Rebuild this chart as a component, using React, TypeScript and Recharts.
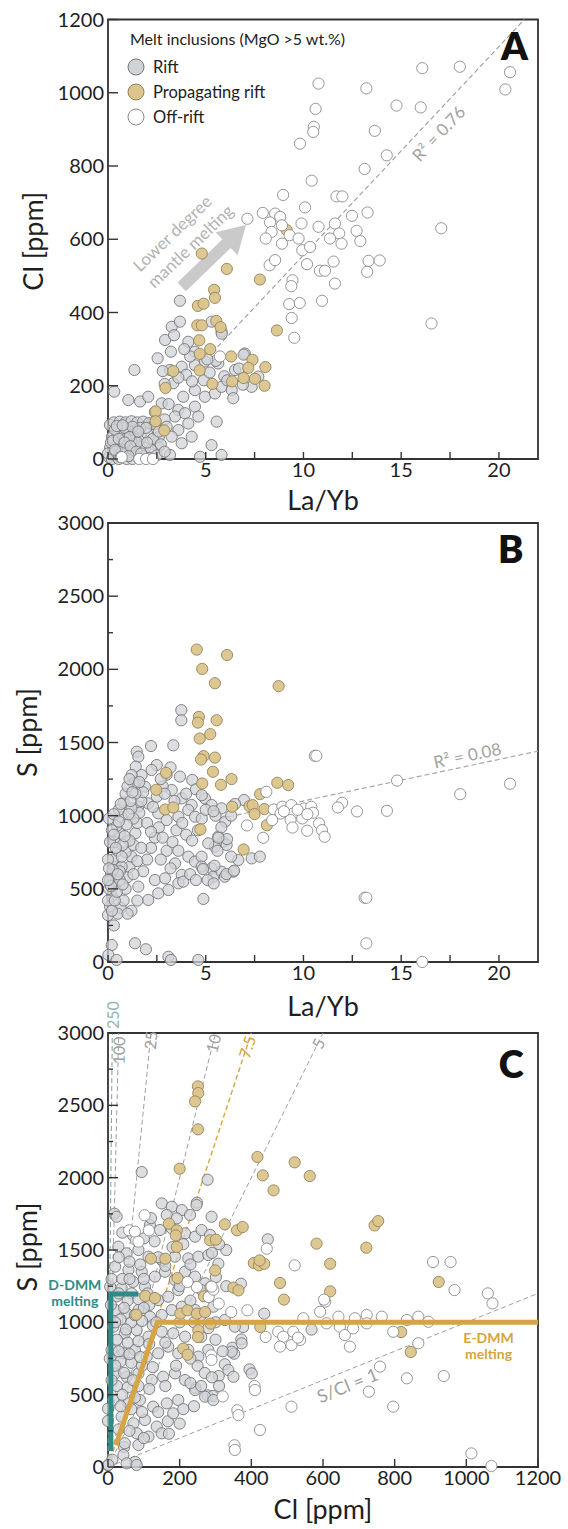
import React from 'react';
import { ScatterChart, Scatter, XAxis, YAxis, ReferenceArea, ReferenceLine, Legend } from 'recharts';

type P = [number, number];
const FONT = "Lato, 'DejaVu Sans', sans-serif";

// ---------- Panel A : La/Yb vs Cl ----------
const riftA: P[] = [
  [3.68,432],[3.26,361],[3.68,375],[2.92,325],[3.38,338],[3.22,293],[4.11,320],[4.45,293],[5.3,375],[5.81,348],
  [2.54,275],[1.35,243],[3.77,252],[3.17,243],[4.45,256],[4.96,266],[5.64,261],[6.5,243],[7.0,288],[7.35,197],
  [7.69,225],[3.34,207],[3.85,170],[4.45,188],[4.96,170],[5.47,179],[5.81,197],[6.33,188],[6.41,166],[0.32,184],
  [1.04,161],[1.64,157],[2.06,170],[2.75,152],[3.6,134],[3.43,116],[3.94,125],[4.45,143],[4.62,116],[4.11,97],
  [3.6,79],[3.26,61],[4.28,61],[3.77,43],[5.56,102],[5.3,38],[5.81,11],[4.71,6],[3.17,11],[2.57,34],[0.1,93],
  [4.0,230],[4.3,212],[3.6,222],[2.9,205],[2.4,128],[2.9,108],[3.1,150],[4.9,215],[5.2,236],[5.95,226],[6.9,203],
  [6.1,215],[6.7,247],[6.94,285],[5.82,342],[5.52,268],[5.08,272],[4.2,280],[3.9,300],[2.8,240],[2.2,95],[2.6,60],[3.0,88],
  [0.3,100],[0.6,102],[0.9,100],[1.2,103],[1.5,100],[1.8,102],[2.1,98],[2.4,95],[0.2,60],[0.5,70],[0.8,65],[1.1,75],
  [1.4,70],[1.7,60],[2.0,70],[2.3,55],[0.1,30],[0.4,35],[0.7,40],[1.0,45],[1.3,40],[1.6,35],[1.9,30],[2.2,25],
  [0.05,5],[0.3,10],[0.6,15],[0.9,8],[1.2,12],[1.5,5],[1.8,8],[2.1,3],[2.5,10],[0.15,45],[0.45,20],[0.75,25],
  [1.05,20],[1.35,55],[1.65,85],[1.95,85],[0.35,80],[0.85,85],[1.25,88],[2.6,75],[2.7,40],[2.9,20],[0.0,15],
  [0.2,0],[0.55,0],[0.95,0],[1.25,0],[0.6,30],[0.8,35],[1.0,30],[1.2,50],[0.4,20],[0.7,20],[1.3,25],[1.5,45],[0.9,55],[1.1,60],
  [0.25,50],[0.55,55],[0.85,45],[1.15,35],[1.45,20],[0.35,25],[0.65,5],[1.05,8],[1.7,15],[2.0,45],[0.45,90],[0.75,92],[1.55,75],
];
const propA: P[] = [
  [4.8,561],[6.08,519],[7.77,490],[9.14,625],[5.43,462],[5.47,440],[4.6,418],[4.89,424],[4.57,365],[4.8,365],
  [5.54,377],[5.76,360],[8.64,351],[4.67,324],[5.23,300],[4.69,287],[6.3,280],[7.39,271],[3.34,240],[4.69,242],
  [7.18,249],[8.05,251],[6.94,221],[7.52,219],[6.35,212],[5.34,205],[8.01,200],[2.94,194],[2.44,130],[2.44,103],[2.88,78],
];
const offA: P[] = [
  [16.08,1067],[18.0,1071],[20.57,1056],[20.33,1009],[10.77,1025],[13.22,1012],[14.76,965],[16.0,960],[10.62,956],
  [10.53,907],[10.5,893],[9.82,861],[13.65,896],[14.26,829],[13.13,792],[10.42,760],[8.96,721],[11.69,717],[11.99,717],
  [17.05,630],[12.48,664],[13.28,673],[10.08,687],[9.9,643],[7.13,656],[7.92,672],[8.55,670],[8.81,661],[8.29,646],
  [8.9,638],[8.37,620],[8.07,602],[8.9,588],[9.29,611],[9.75,602],[9.94,570],[10.34,579],[10.77,634],[11.61,643],
  [11.83,616],[11.36,602],[11.95,588],[12.72,623],[12.91,595],[10.18,532],[8.27,529],[8.55,543],[10.84,514],[11.1,514],
  [11.54,539],[13.33,541],[13.9,542],[13.26,511],[11.61,479],[9.44,488],[9.38,472],[10.95,432],[9.27,423],[9.81,426],
  [9.4,385],[9.53,331],[16.55,370],[5.73,280],[1.6,0],[1.95,0],[2.3,0],[0.7,5],
];
const regA: P[] = [[5.6,306],[21.3,1200]];
const arrowA: P[] = [[3.77,470],[7.06,639]];

// ---------- Panel B : La/Yb vs S ----------
const riftB: P[] = [
  [2.2,1476],[3.34,1481],[1.47,1437],[1.55,1403],[2.49,1346],[1.42,1335],[2.23,1312],[1.72,1278],[1.21,1278],[3.68,1267],
  [4.31,1244],[1.3,1221],[1.89,1198],[3.26,1175],[3.77,1118],[4.96,1118],[4.28,1073],[4.11,1039],[5.3,1073],[5.81,1050],
  [6.96,1107],[4.45,993],[3.6,993],[3.0,970],[2.57,1016],[2.06,1084],[1.55,1062],[5.64,857],[5.9,822],[6.07,800],
  [5.47,788],[5.13,811],[4.11,720],[4.45,686],[4.79,720],[4.79,652],[5.3,640],[5.39,583],[5.81,617],[5.98,583],
  [6.41,617],[6.67,697],[7.35,708],[7.77,720],[4.88,431],[3.43,674],[3.77,595],[3.6,538],[3.09,492],[2.57,469],
  [2.06,424],[1.55,515],[2.4,560],[2.92,572],[3.85,549],[1.38,128],[1.94,87],[0.19,116],[0.02,48],[0.44,14],
  [3.09,36],[3.22,14],[4.62,14],[3.75,1721],[3.75,1652],
  [0.0,320],[0.1,380],[0.2,450],[0.05,500],[0.3,520],[0.15,600],[0.4,650],[0.25,700],[0.5,760],[0.35,820],[0.6,880],
  [0.45,930],[0.7,990],[0.55,1040],[0.8,1090],[0.9,1150],[1.0,1200],[1.1,1250],[0.65,370],[0.5,330],[0.8,420],[0.9,500],
  [1.0,580],[1.1,650],[1.2,720],[1.3,800],[1.4,880],[1.5,950],[1.6,1020],[1.7,1100],[1.8,1160],[0.1,820],[0.2,900],
  [0.05,980],[0.3,1010],[0.0,700],[0.1,560],[1.2,350],[1.0,330],[1.5,420],[1.8,620],[2.0,700],[2.2,780],[2.4,850],
  [2.6,920],[2.3,1060],[2.5,1130],[2.8,1200],[3.0,1280],[2.7,1250],[3.2,1330],[0.3,250],[0.0,420],[0.6,560],[0.7,650],
  [0.9,750],[1.1,830],[1.3,980],[1.2,1050],[1.4,1150],[1.6,1230],[2.0,950],[2.2,890],[1.7,780],[1.5,690],[1.3,600],
  [2.8,850],[3.0,760],[3.3,820],[3.5,900],[3.8,950],[4.0,870],[4.3,830],[4.6,900],[4.8,980],[5.0,1040],[5.5,1000],
  [6.0,960],[6.3,1000],[5.8,920],[4.2,600],[4.5,560],[5.1,560],[3.2,640],[2.7,700],[3.6,760],[4.0,1150],[4.5,1180],
  [3.4,1100],[2.9,1150],[6.5,1080],[5.6,760],[6.3,720],[4.8,1140],[5.4,1030],[6.09,840],[5.65,849],[5.41,537],
  [6.06,601],[6.45,624],[5.45,658],[4.86,635],
  [0.2,350],[0.35,420],[0.45,480],[0.6,620],[0.7,720],[0.75,800],[0.85,860],[0.95,940],[1.05,1010],[1.15,1100],
  [1.25,1160],[0.15,520],[0.25,630],[0.4,780],[0.55,960],[0.65,1080],[0.3,870],[0.05,640],[0.0,560],[0.5,600],[0.75,530],
];
const propB: P[] = [
  [4.54,2135],[6.09,2098],[4.82,2003],[5.47,1905],[8.73,1885],[4.65,1675],[4.6,1636],[5.56,1652],[4.69,1527],[5.23,1557],
  [4.89,1407],[4.76,1384],[5.47,1397],[5.37,1300],[2.97,1293],[2.47,1177],[4.82,1220],[5.78,1211],[6.32,1250],[8.66,1225],
  [9.22,1209],[7.78,1147],[2.92,1042],[3.34,1056],[6.35,1061],[7.24,1065],[7.4,1072],[7.5,1011],[8.0,1045],[8.13,935],
  [4.73,906],[6.94,769],
];
const offB: P[] = [
  [10.58,1409],[10.66,1409],[14.79,1240],[20.57,1218],[18.02,1147],[8.1,1163],[11.98,1088],[11.76,1056],[12.74,1029],
  [14.27,1033],[8.48,1042],[8.92,1061],[9.38,1072],[9.47,1015],[9.34,970],[9.44,919],[9.94,981],[10.03,1049],[10.4,1061],
  [10.49,1020],[10.8,947],[10.95,901],[11.08,856],[10.19,897],[8.83,1015],[8.4,970],[7.11,933],[7.94,849],[13.13,439],
  [13.22,439],[13.22,127],[16.08,0],[9.0,1030],[9.7,1040],[10.2,1010],
];
const regB: P[] = [[5.78,981],[22,1441]];

// ---------- Panel C : Cl vs S ----------
const riftC: P[] = [
  [94,2039],[18,1751],[278,1986],[248,1827],[446,1574],[377,968],[372,882],[347,825],[352,783],[395,675],[309,629],
  [326,710],[568,950],[371,1267],[436,1060],[278,495],[293,491],[244,548],[167,316],[45,138],[76,35],[0,12],[12,51],
  [0,318],[0,403],
  [24,1730],[150,1822],[178,1799],[206,1776],[229,1742],[247,1811],[164,1742],[192,1719],[289,1730],[117,1672],[145,1638],
  [178,1650],[215,1615],[243,1592],[261,1638],[285,1604],[29,1523],[52,1477],[85,1500],[113,1454],[150,1431],[187,1454],
  [224,1442],[252,1454],[280,1465],[20,1385],[57,1362],[94,1350],[131,1316],[159,1350],[187,1293],[215,1350],[243,1316],
  [271,1270],[6,1246],[38,1235],[66,1200],[103,1246],[140,1154],[168,1177],[196,1223],[261,1223],[280,1177],[20,1085],
  [52,1062],[85,1085],[117,1039],[150,1051],[178,1085],[206,1108],[243,1085],[294,1108],[326,1016],[354,970],[373,855],
  [345,797],[401,647],[336,670],[350,624],[15,970],[47,924],[80,947],[113,901],[150,935],[182,924],[215,901],[10,809],
  [43,786],[75,809],[108,763],[140,786],[168,832],[196,786],[224,809],[252,763],[280,809],[20,647],[52,624],[85,647],
  [122,601],[154,624],[187,647],[215,601],[243,532],[271,486],[294,463],[15,463],[57,440],[89,463],[126,417],[164,440],
  [196,463],[182,371],[38,348],[71,302],[103,325],[136,279],[150,233],[113,210],[80,233],[47,164],[85,152],[43,83],
  [52,25],[1,14],[80,14],
  [30,1450],[60,1420],[90,1400],[10,1300],[40,1300],[70,1280],[100,1300],[25,1180],[55,1150],[85,1160],[115,1120],
  [35,1020],[65,1000],[95,1010],[125,980],[25,880],[55,860],[85,870],[115,850],[35,730],[65,720],[95,700],[125,690],
  [25,560],[55,550],[85,560],[115,540],[35,420],[65,400],[95,380],[30,260],[60,250],[100,200],[10,600],[5,750],[8,1120],
  [140,1450],[160,1390],[130,1560],[100,1580],[70,1600],[40,1620],[120,1720],[180,1520],[210,1540],[230,1400],[200,1250],
  [230,1150],[260,1050],[280,960],[300,880],[320,800],[250,700],[270,650],[230,750],[260,900],[300,1000],[240,1000],
  [160,860],[190,700],[160,560],[230,580],[210,400],[240,420],[200,300],[170,230],[140,380],[260,560],[290,620],[310,560],
  [135,1000],[200,1000],[330,1250],[308,1405],[301,1313],[330,1500],[310,1540],[290,1480],
  [20,1000],[45,1100],[75,1050],[50,950],[30,800],[60,780],[90,760],[20,700],[45,650],[70,600],[40,500],[75,480],
  [100,1100],[110,1200],[60,1300],[30,1200],
];
const propC: P[] = [
  [251,2631],[252,2585],[243,2527],[251,2334],[200,2062],[417,2143],[432,2016],[521,2106],[563,2011],[462,1912],
  [744,1670],[754,1700],[582,1544],[721,1516],[620,1405],[620,1214],[480,1272],[491,1157],[923,1279],[818,933],
  [845,795],[326,1677],[360,1636],[376,1659],[285,1567],[301,1571],[299,1359],[407,1410],[421,1394],[436,1405],
  [423,1428],[350,1240],[364,1221],[268,1180],[286,1244],[170,1682],[192,1636],[189,1601],[192,1521],[120,1440],
  [160,1440],[104,1182],[131,1168],[79,1053],[194,1306],[202,1060],[222,1083],[248,1060],[271,1071],[252,945],
  [251,899],[210,818],[222,776],[425,968],[286,991],
];
const offC: P[] = [
  [907,1417],[956,1417],[967,1223],[1060,1200],[1073,1131],[521,1394],[443,1509],[606,1143],[592,1073],[545,1028],
  [643,1039],[689,1028],[722,1051],[764,1039],[834,1016],[866,1039],[894,1004],[475,935],[489,901],[517,935],[536,878],
  [512,843],[480,832],[610,993],[647,970],[661,912],[675,832],[684,958],[722,993],[796,935],[866,855],[759,694],
  [834,613],[937,629],[728,521],[796,417],[512,417],[424,256],[1014,94],[1070,7],[389,1083],[344,1071],[309,1129],
  [281,1175],[440,899],[288,772],[361,392],[353,150],[409,560],[320,488],[102,1740],[59,1636],[79,1567],[114,1636],
  [75,1627],[85,1558],[248,1244],[294,1226],[222,1279],[289,1247],[289,740],[410,532],[364,359],[354,118],[530,894],[603,1157],
];
const ratios = [250, 100, 25, 10, 7.5, 5, 1];
const ratioLabelS = [3000, 2880, 2950, 2930, 2905, 2930];
const dDmm: P[] = [[8,110],[8,1195],[85,1195]];
const eDmm: P[] = [[22,150],[138,1000],[1200,1000]];

// ---------- ticks ----------
const xTicksLaYb = [0, 2.5, 5, 7.5, 10, 12.5, 15, 17.5, 20];
const yTicksCl = [0, 200, 400, 600, 800, 1000, 1200];
const yTicksS = [0, 250, 500, 750, 1000, 1250, 1500, 1750, 2000, 2250, 2500, 2750, 3000];
const xTicksCl = [0, 200, 400, 600, 800, 1000, 1200];

const SERIES = [
  { name: 'Rift', fill: '#d0d3d7', stroke: '#767676', op: 0.75 },
  { name: 'Propagating rift', fill: '#dcc58c', stroke: '#94825a', op: 0.95 },
  { name: 'Off-rift', fill: '#ffffff', stroke: '#8a8a8a', op: 1 },
];

const toXY = (a: P[]) => a.map(([x, y]) => ({ x, y }));

const makeDot = (s: any) => (p: any) =>
  <circle cx={p.cx} cy={p.cy} r={5.6} fill={s.fill} fillOpacity={s.op} stroke={s.stroke} strokeWidth={0.9} />;
const noShape = () => <g />;

const isMult = (v: number, step: number) => Math.abs(v / step - Math.round(v / step)) < 1e-6;

const xTick = (labelStep: number, len: number) => (props: any) => {
  const { x, y, payload } = props;
  const v = payload.value;
  return (
    <g>
      <line x1={x} y1={y} x2={x} y2={y - len} stroke="#333" strokeWidth={1.4} />
      {isMult(v, labelStep) && (
        <text x={x} y={y + 18} textAnchor="middle" fontSize={20} fill="#1e1e1e" fontFamily={FONT}>{v}</text>
      )}
    </g>
  );
};
const yTick = (labelStep: number, major: number, minor: number) => (props: any) => {
  const { x, y, payload } = props;
  const v = payload.value;
  const lab = isMult(v, labelStep);
  return (
    <g>
      <line x1={x} y1={y} x2={x + (lab ? major : minor)} y2={y} stroke="#333" strokeWidth={1.4} />
      {lab && (
        <text x={x - 4} y={y + 7} textAnchor="end" fontSize={20} fill="#1e1e1e" fontFamily={FONT}>{v}</text>
      )}
    </g>
  );
};

const xTitle = (text: string, dy: number) => ({
  content: (lp: any) => {
    const vb = lp.viewBox || {};
    return (
      <text x={vb.x + vb.width / 2} y={vb.y + vb.height + dy} textAnchor="middle" fontSize={27} fill="#1e1e1e" fontFamily={FONT}>{text}</text>
    );
  },
});
const yTitle = (text: string, cx: number, dy: number) => ({
  content: (lp: any) => {
    const vb = lp.viewBox || {};
    const X = vb.x + cx, Y = vb.y + vb.height / 2 + dy;
    return (
      <text x={X} y={Y} textAnchor="middle" dominantBaseline="central" fontSize={27} fill="#1e1e1e" fontFamily={FONT} transform={`rotate(-90 ${X} ${Y})`}>{text}</text>
    );
  },
});

const AnnText = (p: any) => {
  const a = p.payload || {};
  const X = p.cx + (a.dx || 0), Y = p.cy + (a.dy || 0);
  return (
    <text x={X} y={Y} textAnchor={a.anchor || 'middle'} dominantBaseline={a.central ? 'central' : 'auto'}
      fontSize={a.size} fontWeight={a.weight || 400} fill={a.color} fontFamily={FONT}
      transform={a.angle ? `rotate(${a.angle} ${X} ${Y})` : undefined}>{a.text}</text>
  );
};

const ArrowShape = (p: any) => {
  const { x1, y1, x2, y2 } = p;
  const dx = x2 - x1, dy = y2 - y1, L = Math.hypot(dx, dy) || 1;
  const ux = dx / L, uy = dy / L, nx = -uy, ny = ux;
  const sw = 6, hw = 16, hl = 27;
  const bx = x2 - ux * hl, by = y2 - uy * hl;
  const pts = [
    [x1 + nx * sw, y1 + ny * sw], [bx + nx * sw, by + ny * sw], [bx + nx * hw, by + ny * hw], [x2, y2],
    [bx - nx * hw, by - ny * hw], [bx - nx * sw, by - ny * sw], [x1 - nx * sw, y1 - ny * sw],
  ].map((q) => q.join(',')).join(' ');
  return <polygon points={pts} fill="#cacaca" />;
};

const LegendBox = () => (
  <svg width={290} height={108} style={{ display: 'block', overflow: 'visible' }}>
    <text x={8} y={19} fontSize={16} fill="#222" fontFamily={FONT}>Melt inclusions (MgO &gt;5 wt.%)</text>
    {SERIES.map((s, i) => (
      <g key={s.name}>
        <circle cx={14} cy={41 + 25 * i} r={8} fill={s.fill} stroke={s.stroke} strokeWidth={1} />
        <text x={31} y={47 + 25 * i} fontSize={16.5} fill="#222" fontFamily={FONT}>{s.name}</text>
      </g>
    ))}
  </svg>
);

const deg = (r: number) => (Math.atan(r) * 180) / Math.PI;
const PW = 430;

const annA = [
  { x: 20.8, y: 1089, text: 'A', size: 38, weight: 800, color: '#111' },
  { x: 16.9, y: 889, text: 'R² = 0.76', size: 17, color: '#a3a3a3', central: true, angle: -deg(((1200 - 306) / 1200 * 439.5) / ((21.3 - 5.6) / 22 * PW)) },
  { x: 3.27, y: 617, text: 'Lower degree', size: 17, color: '#b3b3b3', central: true, angle: -43.8 },
  { x: 4.2, y: 582, text: 'mantle melting', size: 17, color: '#b3b3b3', central: true, angle: -43.8 },
];
const annB = [
  { x: 20.6, y: 2725, text: 'B', size: 38, weight: 800, color: '#111' },
  { x: 18.38, y: 1414, text: 'R² = 0.08', size: 17, color: '#a3a3a3', central: true, angle: -deg(((1441 - 981) / 3000 * 439) / ((22 - 5.78) / 22 * PW)) },
];
const slopeC = (434 / 3000) / (PW / 1200);
const ratioColor = (r: number) => (r === 7.5 ? '#d9a640' : r === 250 ? '#6fa7a4' : '#a0a0a0');
const annC = [
  { x: 1125, y: 2689, text: 'C', size: 38, weight: 800, color: '#111' },
  ...ratioLabelS.map((s, i) => ({
    x: s / ratios[i], y: s, text: String(ratios[i]), size: 16, color: ratios[i] === 250 ? '#8db3b1' : ratioColor(ratios[i]),
    central: true, angle: -deg(ratios[i] * slopeC), dy: ratios[i] === 250 ? -18 : 0,
  })),
  { x: 668, y: 567, text: 'S/Cl = 1', size: 18, color: '#a0a0a0', central: true, angle: -deg(slopeC) },
  { x: 8, y: 1195, dx: -36, dy: -4, text: 'D-DMM', size: 14, weight: 700, color: '#2f8b87' },
  { x: 8, y: 1195, dx: -36, dy: 12, text: 'melting', size: 14, weight: 700, color: '#2f8b87' },
  { x: 1062, y: 857, text: 'E-DMM', size: 14, weight: 700, color: '#d6a443' },
  { x: 1062, y: 748, text: 'melting', size: 14, weight: 700, color: '#d6a443' },
];

const points = (arrs: P[][]) => arrs.map((a, i) => (
  <Scatter key={SERIES[i].name} name={SERIES[i].name} data={toXY(a)} shape={makeDot(SERIES[i])} isAnimationActive={false} />
));

const ChartA = () => (
  <ScatterChart width={568} height={530} margin={{ top: 19.5, right: 30, bottom: 27, left: 0 }}>
    <XAxis type="number" dataKey="x" domain={[0, 22]} ticks={xTicksLaYb} interval={0} height={44}
      tickSize={0} tickMargin={0} axisLine={false} tickLine={false} tick={xTick(5, 7)} label={xTitle('La/Yb', 7)} />
    <YAxis type="number" dataKey="y" domain={[0, 1200]} ticks={yTicksCl} interval={0} width={108}
      tickSize={0} tickMargin={0} axisLine={false} tickLine={false} tick={yTick(200, 10, 5)} label={yTitle('Cl [ppm]', 32, 2)} />
    <Scatter data={toXY(regA)} line={{ stroke: '#9c9c9c', strokeWidth: 1.1, strokeDasharray: '5 3' }} shape={noShape} isAnimationActive={false} />
    {points([riftA, propA, offA])}
    <ReferenceLine segment={toXY(arrowA)} shape={ArrowShape} />
    <ReferenceArea x1={0} x2={22} y1={0} y2={1200} fill="none" fillOpacity={0} stroke="#333" strokeWidth={1.8} />
    <Scatter data={annA} shape={AnnText} isAnimationActive={false} />
    <Legend layout="vertical" verticalAlign="middle" align="center"
      wrapperStyle={{ left: 122, top: 26, width: 290, height: 108 }} content={() => <LegendBox />} />
  </ScatterChart>
);

const ChartB = () => (
  <ScatterChart width={568} height={530} margin={{ top: 13, right: 30, bottom: 32, left: 0 }}>
    <XAxis type="number" dataKey="x" domain={[0, 22]} ticks={xTicksLaYb} interval={0} height={46}
      tickSize={0} tickMargin={0} axisLine={false} tickLine={false} tick={xTick(5, 7)} label={xTitle('La/Yb', 8)} />
    <YAxis type="number" dataKey="y" domain={[0, 3000]} ticks={yTicksS} interval={0} width={108}
      tickSize={0} tickMargin={0} axisLine={false} tickLine={false} tick={yTick(500, 10, 5)} label={yTitle('S [ppm]', 26, -10)} />
    <Scatter data={toXY(regB)} line={{ stroke: '#a8a8a8', strokeWidth: 1.2, strokeDasharray: '5 3' }} shape={noShape} isAnimationActive={false} />
    {points([riftB, propB, offB])}
    <ReferenceArea x1={0} x2={22} y1={0} y2={3000} fill="none" fillOpacity={0} stroke="#333" strokeWidth={1.8} />
    <Scatter data={annB} shape={AnnText} isAnimationActive={false} />
  </ScatterChart>
);

const ChartC = () => (
  <ScatterChart width={568} height={534} margin={{ top: 38, right: 30, bottom: 22, left: 0 }}>
    <XAxis type="number" dataKey="x" domain={[0, 1200]} ticks={xTicksCl} interval={0} height={40}
      tickSize={0} tickMargin={0} axisLine={false} tickLine={false} tick={xTick(200, 8)} label={xTitle('Cl [ppm]', 12)} />
    <YAxis type="number" dataKey="y" domain={[0, 3000]} ticks={yTicksS} interval={0} width={108}
      tickSize={0} tickMargin={0} axisLine={false} tickLine={false} tick={yTick(500, 10, 5)} label={yTitle('S [ppm]', 26, -3)} />
    {ratios.map((r) => (
      <Scatter key={'r' + r}
        data={[{ x: 0, y: 0 }, r * 1200 <= 3000 ? { x: 1200, y: r * 1200 } : { x: 3000 / r, y: 3000 }]}
        line={{ stroke: ratioColor(r), strokeWidth: r === 7.5 ? 1.4 : 1, strokeDasharray: '5 3' }}
        shape={noShape} isAnimationActive={false} />
    ))}
    {points([riftC, propC, offC])}
    <Scatter data={toXY(dDmm)} line={{ stroke: '#2f8b87', strokeWidth: 5 }} shape={noShape} isAnimationActive={false} />
    <Scatter data={toXY(eDmm)} line={{ stroke: '#d6a443', strokeWidth: 5 }} shape={noShape} isAnimationActive={false} />
    <ReferenceArea x1={0} x2={1200} y1={0} y2={3000} fill="none" fillOpacity={0} stroke="#333" strokeWidth={1.8} />
    <Scatter data={annC} shape={AnnText} isAnimationActive={false} />
  </ScatterChart>
);

export default function App() {
  return (
    <div style={{ position: 'absolute', left: 0, top: 0, width: 568, height: 1529, background: '#fff', fontFamily: FONT }}>
      <div style={{ position: 'absolute', left: 0, top: 0 }}><ChartA /></div>
      <div style={{ position: 'absolute', left: 0, top: 510 }}><ChartB /></div>
      <div style={{ position: 'absolute', left: 0, top: 995 }}><ChartC /></div>
    </div>
  );
}
